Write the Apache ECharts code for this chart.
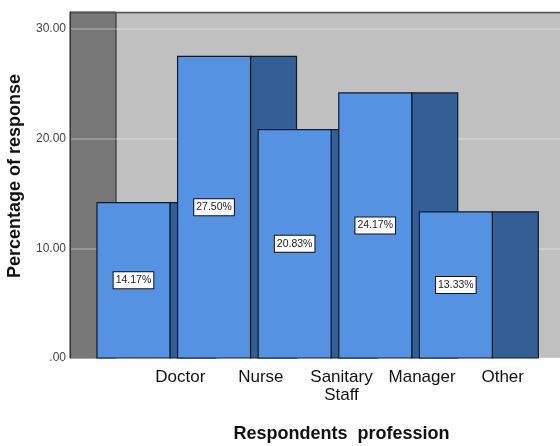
<!DOCTYPE html>
<html>
<head>
<meta charset="utf-8">
<script src="https://cdn.jsdelivr.net/npm/echarts@6/dist/echarts.min.js"></script>
<style>
html,body{margin:0;padding:0;background:#fff;}
#chart{width:560px;height:446px;}
</style>
</head>
<body>
<div id="chart"></div>
<script>
const categories = ['Doctor', 'Nurse', 'Sanitary\nStaff', 'Manager', 'Other'];
const values = [14.17, 27.50, 20.83, 24.17, 13.33];
const valueLabels = ['14.17%', '27.50%', '20.83%', '24.17%', '13.33%'];
const yTicks = [0, 10, 20, 30];

const chart = echarts.init(document.getElementById('chart'));

// geometry in category-spacing units (grid A x axis)
const OFF = 0.335, FW = 0.905, DEPTH = 0.571, XMAX = 6.08, YMAX = 31.55;
const FONT = 'Liberation Sans, Arial, sans-serif';

function wallsRender(params, api) {
  const tl = api.coord([0, YMAX]);
  const br = api.coord([XMAX, 0]);
  const wr = api.coord([DEPTH, 0]);
  return {
    type: 'group',
    children: [
      { type: 'rect', shape: { x: tl[0], y: tl[1], width: br[0] - tl[0], height: br[1] - tl[1] },
        style: { fill: '#c0c0c0', stroke: null } },
      { type: 'rect', shape: { x: tl[0], y: tl[1], width: wr[0] - tl[0], height: br[1] - tl[1] },
        style: { fill: '#787878', stroke: '#222', lineWidth: 1 } },
      { type: 'line', shape: { x1: tl[0], y1: tl[1] + 0.5, x2: br[0], y2: tl[1] + 0.5 },
        style: { stroke: '#222', lineWidth: 1.5 } }
    ]
  };
}

function barRender(params, api) {
  const i = api.value(0);
  const v = api.value(1);
  const x0 = i + OFF, x1 = x0 + FW, x2 = x1 + DEPTH;
  const pTL = api.coord([x0, v]);
  const pFR = api.coord([x1, 0]);
  const pSR = api.coord([x2, 0]);
  const h = pFR[1] - pTL[1];
  const midY = pTL[1] + h / 2;
  return {
    type: 'group',
    children: [
      { type: 'rect', z2: i * 3,
        shape: { x: pFR[0], y: pTL[1], width: pSR[0] - pFR[0], height: h },
        style: { fill: '#345f94', stroke: '#0f1a2e', lineWidth: 1.2 } },
      { type: 'rect', z2: i * 3 + 1,
        shape: { x: pTL[0], y: pTL[1], width: pFR[0] - pTL[0], height: h },
        style: { fill: '#5592e2', stroke: '#0f1a2e', lineWidth: 1.2 } },
      { type: 'text', z2: 100,
        style: { text: valueLabels[i], x: (pTL[0] + pFR[0]) / 2, y: midY,
          align: 'center', verticalAlign: 'middle', fontSize: 10.5, fontFamily: FONT,
          fill: '#222', backgroundColor: '#fff', borderColor: '#111', borderWidth: 1,
          padding: [3, 2, 2, 2] } }
    ]
  };
}

const option = {
  animation: false,
  grid: [
    { left: 70, right: 0, top: 12, bottom: 88, outerBoundsMode: 'none', containLabel: false },
    { left: 140, right: 17, top: 12, bottom: 88, outerBoundsMode: 'none', containLabel: false }
  ],
  xAxis: [
    { gridIndex: 0, type: 'value', min: 0, max: XMAX, show: false },
    { gridIndex: 1, type: 'category', data: categories,
      axisLine: { show: false }, axisTick: { show: false },
      axisLabel: { interval: 0, fontSize: 17, color: '#111', fontFamily: FONT, margin: 10, lineHeight: 18 },
      name: 'Respondents  profession', nameLocation: 'middle', nameGap: 67,
      nameTextStyle: { fontSize: 18, fontWeight: 'bold', color: '#111', fontFamily: FONT } }
  ],
  yAxis: [
    { gridIndex: 0, type: 'value', min: 0, max: YMAX, interval: 10, z: 1,
      axisLine: { show: true, lineStyle: { color: '#333', width: 1 } },
      axisTick: { show: false },
      axisLabel: { fontSize: 12, color: '#444', fontFamily: FONT, margin: 4,
        formatter: function (v) { return yTicks.indexOf(v) < 0 ? '' : (v === 0 ? '.00' : v.toFixed(2)); } },
      splitLine: { show: true, lineStyle: { color: 'rgba(255,255,255,0.3)', width: 1.5 } },
      name: 'Percentage of response', nameLocation: 'middle', nameGap: 46, nameRotate: 90,
      nameTextStyle: { fontSize: 18, fontWeight: 'bold', color: '#111', fontFamily: FONT, padding: [0, 0, 0, 18] } },
    { gridIndex: 1, type: 'value', min: 0, max: YMAX, show: false }
  ],
  series: [
    { type: 'custom', xAxisIndex: 0, yAxisIndex: 0, z: 0, silent: true,
      renderItem: wallsRender, data: [[0, 0]], clip: false },
    { type: 'custom', xAxisIndex: 0, yAxisIndex: 0, z: 2,
      renderItem: barRender, clip: false,
      data: values.map(function (v, i) { return [i, v]; }) }
  ]
};
chart.setOption(option);
</script>
</body>
</html>
